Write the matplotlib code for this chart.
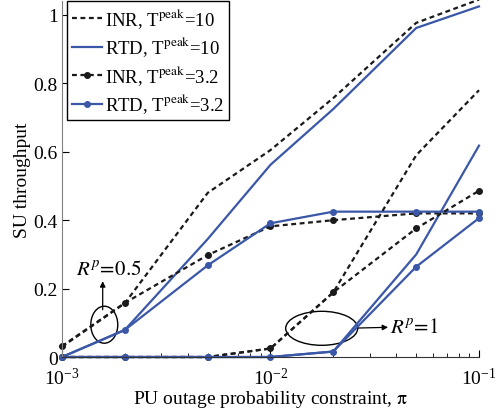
import matplotlib
matplotlib.use("Agg")
import matplotlib.pyplot as plt
from matplotlib.patches import Ellipse
import numpy as np

plt.rcParams['font.family'] = ['Liberation Serif', 'DejaVu Serif']
plt.rcParams['mathtext.fontset'] = 'stix'

# ---- data ----
x = [1e-3, 2e-3, 5e-3, 1e-2, 2e-2, 5e-2, 1e-1]
# R^p = 0.5
inr10_r05 = [0.03, 0.157, 0.48, 0.605, 0.757, 0.977, 1.045]
rtd10_r05 = [0.0, 0.079, 0.345, 0.562, 0.725, 0.962, 1.025]
inr32_r05 = [0.032, 0.158, 0.298, 0.382, 0.40, 0.42, 0.42]
rtd32_r05 = [0.0, 0.079, 0.268, 0.391, 0.425, 0.425, 0.425]
# R^p = 1
inr10_r1 = [0.0, 0.0, 0.0, 0.025, 0.189, 0.59, 0.78]
rtd10_r1 = [0.0, 0.0, 0.0, 0.0, 0.016, 0.30, 0.618]
inr32_r1 = [0.0, 0.0, 0.0, 0.025, 0.189, 0.376, 0.486]
rtd32_r1 = [0.0, 0.0, 0.0, 0.0, 0.016, 0.264, 0.406]

labels = [r'INR, T$^{\mathrm{peak}}$=10', r'RTD, T$^{\mathrm{peak}}$=10',
          r'INR, T$^{\mathrm{peak}}$=3.2', r'RTD, T$^{\mathrm{peak}}$=3.2']
yticks = [0, 0.2, 0.4, 0.6, 0.8, 1]
ytick_labels = ['0', '0.2', '0.4', '0.6', '0.8', '1']

blue = '#3a57a8'
black = '#1a1a1a'
dash = (0, (2.2, 1.6))

fig = plt.figure(figsize=(4.96, 4.10), dpi=100)
ax = fig.add_axes([0.125, 0.1268, 0.8407, 0.8676])

styles = [
    dict(color=black, linestyle=dash, lw=1.6),
    dict(color=blue, linestyle='-', lw=1.6),
    dict(color=black, linestyle=dash, lw=1.6, marker='o', ms=4),
    dict(color=blue, linestyle='-', lw=1.6, marker='o', ms=4),
]
series05 = [inr10_r05, rtd10_r05, inr32_r05, rtd32_r05]
series1 = [inr10_r1, rtd10_r1, inr32_r1, rtd32_r1]
handles = []
for s, lab, st in zip(series05, labels, styles):
    h, = ax.plot(x, s, label=lab, clip_on=False, **st)
    handles.append(h)
for s, st in zip(series1, styles):
    ax.plot(x, s, clip_on=False, **st)

ax.set_xscale('log')
ax.set_xlim(1e-3, 1e-1)
ax.set_ylim(0, 1.04)
ax.set_yticks(yticks)
ax.set_yticklabels(ytick_labels)
ax.tick_params(direction='in', labelsize=14, length=5)
ax.tick_params(which='minor', direction='in', length=3)
ax.tick_params(axis='x', pad=7)
ax.tick_params(axis='y', pad=3)
for sp in ['top', 'right']:
    ax.spines[sp].set_visible(False)
ax.spines['left'].set_color('#808080')
ax.spines['bottom'].set_color('#333333')

ax.set_xlabel(r'PU outage probability constraint, $\mathrm{\pi}$', fontsize=14, labelpad=0)
ax.set_ylabel('SU throughput', fontsize=14, labelpad=2)

leg = ax.legend(handles=handles, loc='upper left', bbox_to_anchor=(0.012, 1.0),
                fontsize=13.5, handlelength=1.6, handletextpad=0.15,
                labelspacing=0.25, borderpad=0.25, borderaxespad=0.0,
                fancybox=False, edgecolor='black', framealpha=1)
leg.get_frame().set_linewidth(1.0)

# annotations
ax.add_patch(Ellipse((0.1014, 0.0908), 0.0647, 0.104, transform=ax.transAxes,
                     fill=False, edgecolor='black', lw=1.0))
ax.annotate('', xy=(0.0976, 0.213), xytext=(0.0976, 0.133),
            xycoords='axes fraction', textcoords='axes fraction',
            arrowprops=dict(arrowstyle='-|>', color='black', lw=0.9,
                            mutation_scale=8, shrinkA=0, shrinkB=0))
ax.text(0.1127, 0.246, r'$R^{p}\!=\!\mathit{0.5}$', transform=ax.transAxes,
        ha='center', va='center', fontsize=15)

ax.add_patch(Ellipse((0.6228, 0.0807), 0.1727, 0.0956, transform=ax.transAxes,
                     fill=False, edgecolor='black', lw=1.0))
ax.annotate('', xy=(0.782, 0.0835), xytext=(0.7105, 0.0815),
            xycoords='axes fraction', textcoords='axes fraction',
            arrowprops=dict(arrowstyle='-|>', color='black', lw=0.9,
                            mutation_scale=8, shrinkA=0, shrinkB=0))
ax.text(0.7866, 0.0835, r'$R^{p}\!=\!\mathit{1}$', transform=ax.transAxes,
        ha='left', va='center', fontsize=15)

fig.savefig('out.png', dpi=100)
